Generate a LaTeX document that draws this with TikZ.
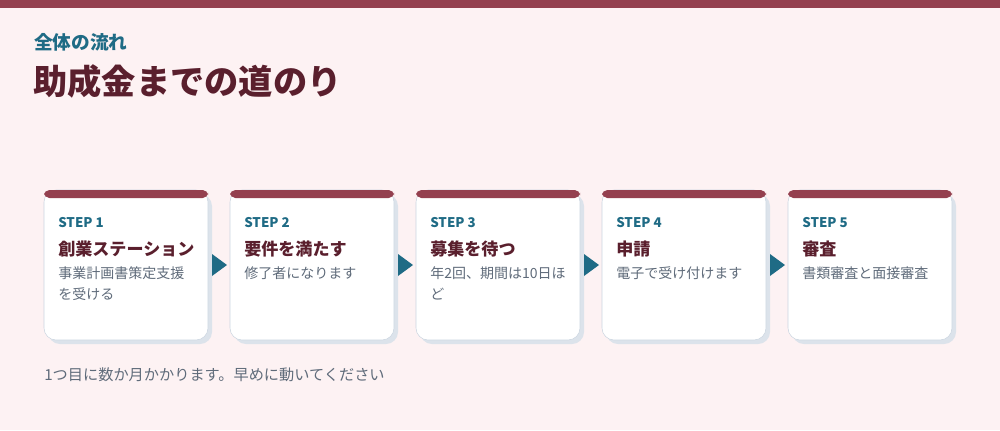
\documentclass[tikz,border=0pt]{standalone}
\usepackage{fontspec}
\setmainfont{Noto Sans CJK JP}
\definecolor{bar}{HTML}{94404F}
\definecolor{bg}{HTML}{FDF2F3}
\definecolor{teal}{HTML}{1F6B85}
\definecolor{dark}{HTML}{5A1F2D}
\definecolor{gr}{HTML}{5F6B7A}
\definecolor{bd}{HTML}{CBD5E0}
\definecolor{sh}{HTML}{DCE3EB}
\begin{document}
\begin{tikzpicture}[x=0.75pt,y=-0.75pt,
 stp/.style={anchor=base west,inner sep=0,font=\fontsize{10}{12}\selectfont\bfseries,text=teal},
 ttl/.style={anchor=base west,inner sep=0,font=\fontsize{12.8}{16}\selectfont\bfseries,text=dark},
 dsc/.style={anchor=north west,inner sep=0,align=left,font=\fontsize{10.5}{15.75}\selectfont,text=gr},
 arr/.style={fill=teal}]
\fill[bg] (0,0) rectangle (1000,430);
\fill[bar] (0,0) rectangle (1000,8);
\node[anchor=base west,inner sep=0,font=\fontsize{14}{16}\selectfont\bfseries,text=teal] (sub) at (34,49) {全体の流れ};
\node[anchor=base west,inner sep=0,font=\fontsize{25.7}{30}\selectfont\bfseries,text=dark] (main) at (33,94) {助成金までの道のり};
\foreach \i/\t/\d in {0/創業ステーション/{事業計画書策定支援\\を受ける},1/要件を満たす/{修了者になります},2/募集を待つ/{年2回、期間は10日ほ\\ど},3/申請/{電子で受け付けます},4/審査/{書類審査と面接審査}}{
 \pgfmathsetmacro{\x}{44+186*\i}
 \fill[sh,rounded corners=9] (\x+4,194) rectangle (\x+168,344);
 \filldraw[fill=white,draw=bd,rounded corners=9] (\x,190) rectangle (\x+164,340);
 \fill[bar,rounded corners=4] (\x,190) rectangle (\x+164,198);
 \pgfmathtruncatemacro{\n}{\i+1}
 \node[stp] (s\n) at (\x+14,227) {STEP \n};
 \node[ttl] (t\n) at (\x+14,255) {\t};
 \node[dsc] (d\n) at (\x+14,266.5) {\d};
}
\foreach \i in {0,...,3}{
 \pgfmathsetmacro{\x}{212+186*\i}
 \fill[arr] (\x,254) -- (\x+15,265) -- (\x,276) -- cycle;
}
\node[anchor=base west,inner sep=0,font=\fontsize{11.4}{13}\selectfont,text=gr] (note) at (44,380) {1つ目に数か月かかります。早めに動いてください};
\end{tikzpicture}
\end{document}
